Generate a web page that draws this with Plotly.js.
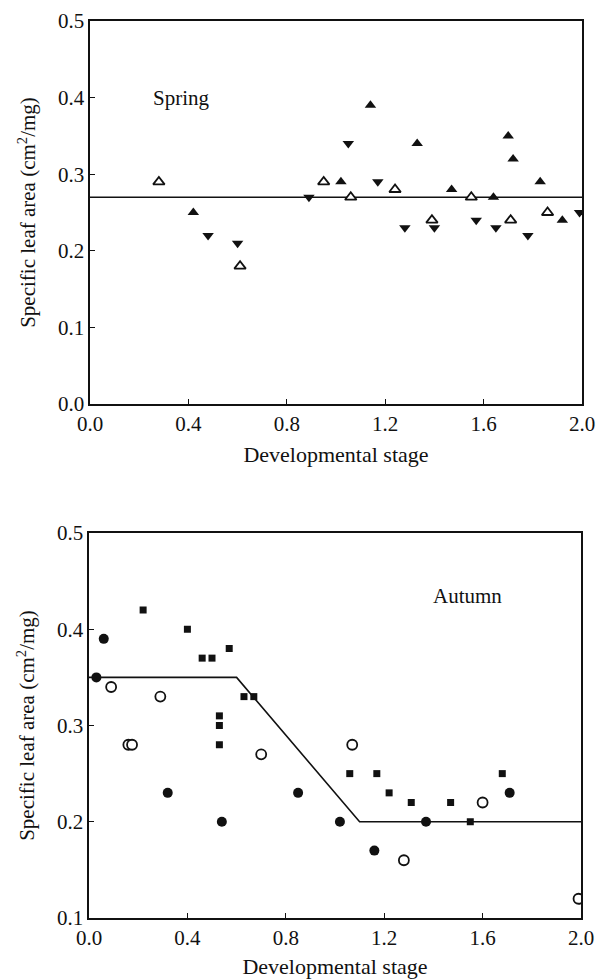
<!DOCTYPE html>
<html>
<head>
<meta charset="utf-8">
<script src="https://cdn.plot.ly/plotly-3.0.1.min.js"></script>
<style>html,body{margin:0;padding:0;background:#fff;}#chart{width:598px;height:979px;}</style>
</head>
<body>
<div id="chart"></div>
<script>
// Spring data
var springFilledUpX = [0.42, 1.02, 1.14, 1.33, 1.47, 1.64, 1.70, 1.72, 1.83, 1.92];
var springFilledUpY = [0.25, 0.29, 0.39, 0.34, 0.28, 0.27, 0.35, 0.32, 0.29, 0.24];
var springDownX = [0.48, 0.60, 0.89, 1.05, 1.17, 1.28, 1.40, 1.57, 1.65, 1.78, 1.99];
var springDownY = [0.22, 0.21, 0.27, 0.34, 0.29, 0.23, 0.23, 0.24, 0.23, 0.22, 0.25];
var springOpenX = [0.28, 0.61, 0.95, 1.06, 1.24, 1.39, 1.55, 1.71, 1.86];
var springOpenY = [0.29, 0.18, 0.29, 0.27, 0.28, 0.24, 0.27, 0.24, 0.25];
var springLineX = [0, 2.0];
var springLineY = [0.27, 0.27];

// Autumn data
var autumnFilledX = [0.03, 0.06, 0.32, 0.54, 0.85, 1.02, 1.16, 1.37, 1.71];
var autumnFilledY = [0.35, 0.39, 0.23, 0.20, 0.23, 0.20, 0.17, 0.20, 0.23];
var autumnOpenX = [0.09, 0.16, 0.175, 0.29, 0.70, 1.07, 1.28, 1.60, 1.99];
var autumnOpenY = [0.34, 0.28, 0.28, 0.33, 0.27, 0.28, 0.16, 0.22, 0.12];
var autumnSquareX = [0.22, 0.40, 0.46, 0.50, 0.57, 0.53, 0.53, 0.53, 0.63, 0.67, 1.06, 1.17, 1.22, 1.31, 1.47, 1.55, 1.68];
var autumnSquareY = [0.42, 0.40, 0.37, 0.37, 0.38, 0.31, 0.30, 0.28, 0.33, 0.33, 0.25, 0.25, 0.23, 0.22, 0.22, 0.20, 0.25];
var autumnLineX = [0, 0.6, 1.1, 2.0];
var autumnLineY = [0.35, 0.35, 0.20, 0.20];

var xTickVals = [0, 0.4, 0.8, 1.2, 1.6, 2.0];
var xTickText = ["0.0", "0.4", "0.8", "1.2", "1.6", "2.0"];
var ySpringTicks = [0, 0.1, 0.2, 0.3, 0.4, 0.5];
var ySpringText = ["0.0", "0.1", "0.2", "0.3", "0.4", "0.5"];
var yAutumnTicks = [0.1, 0.2, 0.3, 0.4, 0.5];
var yAutumnText = ["0.1", "0.2", "0.3", "0.4", "0.5"];

var INK = '#111';
var FONT = "'Liberation Serif', 'Times New Roman', serif";

var traces = [
  {x: springLineX, y: springLineY, xaxis: 'x', yaxis: 'y', mode: 'lines', line: {color: INK, width: 1.6}, hoverinfo: 'skip'},
  {x: springFilledUpX, y: springFilledUpY, xaxis: 'x', yaxis: 'y', mode: 'markers', marker: {symbol: 'triangle-up', size: 10, color: INK}},
  {x: springDownX, y: springDownY, xaxis: 'x', yaxis: 'y', mode: 'markers', marker: {symbol: 'triangle-down', size: 10, color: INK}},
  {x: springOpenX, y: springOpenY, xaxis: 'x', yaxis: 'y', mode: 'markers', marker: {symbol: 'triangle-up', size: 10, color: '#fff', line: {color: INK, width: 1.8}}},

  {x: autumnLineX, y: autumnLineY, xaxis: 'x2', yaxis: 'y2', mode: 'lines', line: {color: INK, width: 1.6}, hoverinfo: 'skip'},
  {x: autumnSquareX, y: autumnSquareY, xaxis: 'x2', yaxis: 'y2', mode: 'markers', marker: {symbol: 'square', size: 7, color: INK}},
  {x: autumnOpenX, y: autumnOpenY, xaxis: 'x2', yaxis: 'y2', mode: 'markers', marker: {symbol: 'circle', size: 10, color: '#fff', line: {color: INK, width: 1.8}}},
  {x: autumnFilledX, y: autumnFilledY, xaxis: 'x2', yaxis: 'y2', mode: 'markers', marker: {symbol: 'circle', size: 10, color: INK}}
];

function xAxis(domain, anchor) {
  return {
    domain: domain, anchor: anchor, range: [0, 2.0],
    tickmode: 'array', tickvals: xTickVals, ticktext: xTickText,
    ticks: 'inside', ticklen: 5, tickwidth: 1.2, tickcolor: INK,
    showline: true, linecolor: INK, linewidth: 1.6, mirror: true,
    showgrid: false, zeroline: false,
    tickfont: {family: FONT, size: 21, color: INK},
    title: {text: 'Developmental stage', font: {family: FONT, size: 22, color: INK}, standoff: 12}
  };
}
function yAxis(domain, anchor, range, vals, text) {
  return {
    domain: domain, anchor: anchor, range: range,
    tickmode: 'array', tickvals: vals, ticktext: text,
    ticks: 'inside', ticklen: 5, tickwidth: 1.2, tickcolor: INK,
    showline: true, linecolor: INK, linewidth: 1.6, mirror: true,
    showgrid: false, zeroline: false,
    tickfont: {family: FONT, size: 21, color: INK},
    title: {text: 'Specific leaf area (cm<sup>2</sup>/mg)', font: {family: FONT, size: 21, color: INK}, standoff: 16}
  };
}

var layout = {
  width: 598, height: 979,
  margin: {l: 0, r: 0, t: 0, b: 0},
  paper_bgcolor: '#fff', plot_bgcolor: '#fff',
  showlegend: false,
  xaxis: xAxis([90/598, 582/598], 'y'),
  yaxis: yAxis([1 - 404/979, 1 - 21/979], 'x', [0, 0.5], ySpringTicks, ySpringText),
  xaxis2: xAxis([89/598, 581/598], 'y2'),
  yaxis2: yAxis([1 - 918/979, 1 - 533/979], 'x2', [0.1, 0.5], yAutumnTicks, yAutumnText),
  annotations: [
    {text: 'Spring', xref: 'x', yref: 'y', x: 0.37, y: 0.40, showarrow: false, font: {family: FONT, size: 21, color: INK}},
    {text: 'Autumn', xref: 'x2', yref: 'y2', x: 1.54, y: 0.435, showarrow: false, font: {family: FONT, size: 21, color: INK}}
  ]
};

Plotly.newPlot('chart', traces, layout, {staticPlot: true, displayModeBar: false});
</script>
</body>
</html>
